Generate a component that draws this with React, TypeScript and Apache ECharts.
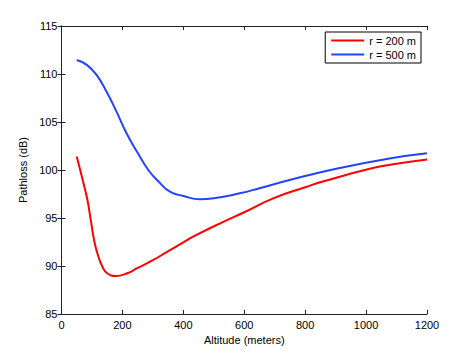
import React, { useEffect, useRef } from "react";
import * as echarts from "echarts";

const xTicks = { min: 0, max: 1200, interval: 200 };
const yTicks = { min: 85, max: 115, interval: 5 };

const seriesNames = ["r = 200 m", "r = 500 m"];

const red200: [number, number][] = [
  [50, 101.4], [70, 98.9], [85, 96.9], [96, 94.8], [107, 92.7], [118, 91.3],
  [134, 89.95], [150, 89.25], [178, 88.96], [216, 89.25], [247, 89.75], [300, 90.6],
  [345, 91.45], [400, 92.45], [432, 93.05], [531, 94.6], [600, 95.6], [695, 97.05],
  [800, 98.2], [858, 98.8], [1022, 100.2], [1100, 100.65], [1200, 101.1],
];

const blue500: [number, number][] = [
  [50, 111.45], [83, 110.95], [115, 109.9], [148, 108.15], [181, 106.05], [214, 103.8],
  [247, 101.95], [285, 100.0], [320, 98.75], [356, 97.75], [400, 97.3], [454, 96.95],
  [500, 97.05], [585, 97.57], [650, 98.1], [749, 98.96], [913, 100.2], [1077, 101.2],
  [1200, 101.74],
];

const FONT = "Liberation Sans, Arial, Helvetica, sans-serif";

export default function App() {
  const ref = useRef<HTMLDivElement>(null);
  useEffect(() => {
    if (!ref.current) return;
    const chart = echarts.init(ref.current, undefined, { renderer: "svg" });
    const axisLine = { show: true, lineStyle: { color: "#222", width: 1 } };
    const tick = { show: true, inside: true, length: 4, lineStyle: { color: "#222" } };
    const fmt = (v: number) => String(v);
    chart.setOption({
      animation: false,
      backgroundColor: "#fff",
      grid: { left: 61.5, right: 44, top: 26, bottom: 40 },
      legend: {
        orient: "vertical",
        right: 50,
        top: 32,
        borderColor: "#000",
        borderWidth: 1,
        padding: [3, 5, 3, 6],
        icon: "rect",
        itemWidth: 33,
        itemHeight: 2,
        itemGap: 3,
        textStyle: { fontFamily: FONT, fontSize: 11, color: "#000" },
        data: seriesNames,
      },
      xAxis: [
        {
          type: "value",
          ...xTicks,
          name: "Altitude (meters)",
          nameLocation: "middle",
          nameGap: 18,
          nameTextStyle: { fontFamily: FONT, fontSize: 11, color: "#000" },
          axisLine,
          axisTick: tick,
          splitLine: { show: false },
          axisLabel: { fontFamily: FONT, fontSize: 11, color: "#000", margin: 5, formatter: fmt },
        },
        {
          type: "value",
          position: "top",
          ...xTicks,
          axisLine,
          axisTick: tick,
          splitLine: { show: false },
          axisLabel: { show: false },
        },
      ],
      yAxis: [
        {
          type: "value",
          ...yTicks,
          name: "Pathloss (dB)",
          nameLocation: "middle",
          nameGap: 25,
          nameTextStyle: { fontFamily: FONT, fontSize: 11, color: "#000" },
          axisLine,
          axisTick: tick,
          splitLine: { show: false },
          axisLabel: { fontFamily: FONT, fontSize: 11, color: "#000", margin: 4, formatter: fmt },
        },
        {
          type: "value",
          position: "right",
          ...yTicks,
          axisLine,
          axisTick: tick,
          splitLine: { show: false },
          axisLabel: { show: false },
        },
      ],
      series: [
        {
          name: seriesNames[0],
          type: "line",
          data: red200,
          smooth: 0.5,
          symbol: "none",
          lineStyle: { color: "#ff0000", width: 2 },
          itemStyle: { color: "#ff0000" },
        },
        {
          name: seriesNames[1],
          type: "line",
          data: blue500,
          smooth: 0.5,
          symbol: "none",
          lineStyle: { color: "#2244ff", width: 2 },
          itemStyle: { color: "#2244ff" },
        },
      ],
    });
    return () => chart.dispose();
  }, []);
  return (
    <div
      ref={ref}
      style={{ position: "absolute", left: 0, top: 0, width: 471, height: 354 }}
    />
  );
}
